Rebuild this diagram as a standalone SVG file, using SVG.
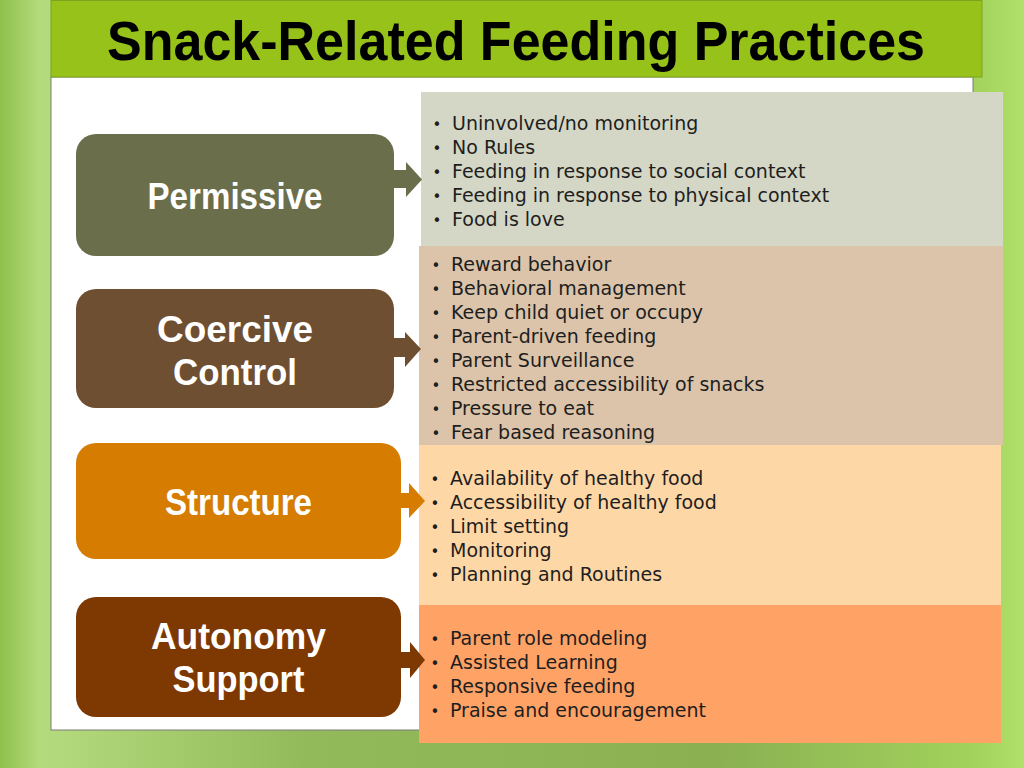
<svg xmlns="http://www.w3.org/2000/svg" width="1024" height="768" viewBox="0 0 1024 768">
<defs>
<linearGradient id="bg" x1="0" y1="0" x2="1" y2="0">
<stop offset="0" stop-color="#8fc04c"/>
<stop offset="0.04" stop-color="#b4dc7e"/>
<stop offset="0.3" stop-color="#92ba5a"/>
<stop offset="0.7" stop-color="#8ab052"/>
<stop offset="0.95" stop-color="#a2d25c"/>
<stop offset="1" stop-color="#b0e06a"/>
</linearGradient>
<style>
.title{font-family:"Liberation Sans",Arial,sans-serif;font-weight:bold;font-size:55px;fill:#000;text-anchor:middle}
.lbl{font-family:"Liberation Sans",Arial,sans-serif;font-weight:bold;font-size:36px;fill:#fff;text-anchor:middle}
.it{font-family:"DejaVu Sans",sans-serif;font-size:19px;fill:#1e1e1e}
.bul{font-family:"DejaVu Sans",sans-serif;font-size:15px;fill:#1e1e1e;text-anchor:middle}
</style>
</defs>
<rect x="0" y="0" width="1024" height="768" fill="url(#bg)"/>
<rect x="51" y="77" width="922" height="653" fill="#ffffff" stroke="#7a7a7a" stroke-width="1"/>
<g id="title">
<rect x="51" y="0.5" width="931" height="76.5" fill="#97c21a" stroke="#7ca320" stroke-width="1"/>
<text class="title" x="516" y="60" textLength="818" lengthAdjust="spacingAndGlyphs">Snack-Related Feeding Practices</text>
</g>
<g id="list-permissive">
<rect x="421" y="92" width="582" height="155" fill="#d4d7c5"/>
<g class="bul"><text x="437" y="130">•</text><text x="437" y="154">•</text><text x="437" y="178">•</text><text x="437" y="202">•</text><text x="437" y="226">•</text></g>
<text class="it" x="452" y="130">Uninvolved/no monitoring</text>
<text class="it" x="452" y="154">No Rules</text>
<text class="it" x="452" y="178">Feeding in response to social context</text>
<text class="it" x="452" y="202">Feeding in response to physical context</text>
<text class="it" x="452" y="226">Food is love</text>
</g>
<g id="list-coercive">
<rect x="419" y="246" width="584" height="199" fill="#dbc4aa"/>
<g class="bul"><text x="436" y="271">•</text><text x="436" y="295">•</text><text x="436" y="319">•</text><text x="436" y="343">•</text><text x="436" y="367">•</text><text x="436" y="391">•</text><text x="436" y="415">•</text><text x="436" y="439">•</text></g>
<text class="it" x="451" y="271">Reward behavior</text>
<text class="it" x="451" y="295">Behavioral management</text>
<text class="it" x="451" y="319">Keep child quiet or occupy</text>
<text class="it" x="451" y="343">Parent-driven feeding</text>
<text class="it" x="451" y="367">Parent Surveillance</text>
<text class="it" x="451" y="391">Restricted accessibility of snacks</text>
<text class="it" x="451" y="415">Pressure to eat</text>
<text class="it" x="451" y="439">Fear based reasoning</text>
</g>
<g id="list-structure">
<rect x="419" y="445" width="582" height="160" fill="#fed7a6"/>
<g class="bul"><text x="435" y="485">•</text><text x="435" y="509">•</text><text x="435" y="533">•</text><text x="435" y="557">•</text><text x="435" y="581">•</text></g>
<text class="it" x="450" y="485">Availability of healthy food</text>
<text class="it" x="450" y="509">Accessibility of healthy food</text>
<text class="it" x="450" y="533">Limit setting</text>
<text class="it" x="450" y="557">Monitoring</text>
<text class="it" x="450" y="581">Planning and Routines</text>
</g>
<g id="list-autonomy">
<rect x="419" y="605" width="582" height="138" fill="#fea266"/>
<g class="bul"><text x="435" y="645">•</text><text x="435" y="669">•</text><text x="435" y="693">•</text><text x="435" y="717">•</text></g>
<text class="it" x="450" y="645">Parent role modeling</text>
<text class="it" x="450" y="669">Assisted Learning</text>
<text class="it" x="450" y="693">Responsive feeding</text>
<text class="it" x="450" y="717">Praise and encouragement</text>
</g>
<g id="node-permissive">
<rect x="76" y="134" width="318" height="122" rx="20" fill="#6b6e4a"/>
<text class="lbl" x="235" y="209" textLength="175" lengthAdjust="spacingAndGlyphs">Permissive</text>
</g>
<g id="node-coercive">
<rect x="76" y="289" width="318" height="119" rx="20" fill="#6f4f31"/>
<text class="lbl" x="235" y="342" textLength="156" lengthAdjust="spacingAndGlyphs">Coercive</text>
<text class="lbl" x="235" y="385" textLength="124" lengthAdjust="spacingAndGlyphs">Control</text>
</g>
<g id="node-structure">
<rect x="76" y="443" width="325" height="116" rx="20" fill="#d57c01"/>
<text class="lbl" x="238.5" y="515" textLength="147" lengthAdjust="spacingAndGlyphs">Structure</text>
</g>
<g id="node-autonomy">
<rect x="76" y="597" width="325" height="120" rx="20" fill="#7e3801"/>
<text class="lbl" x="238.5" y="649" textLength="175" lengthAdjust="spacingAndGlyphs">Autonomy</text>
<text class="lbl" x="238.5" y="692" textLength="132" lengthAdjust="spacingAndGlyphs">Support</text>
</g>
<g id="connectors">
<polygon points="392,170 406,170 406,162 422,179.5 406,197 406,188 392,188" fill="#6b6e4a"/>
<polygon points="392,338 405,338 405,332 421,349 405,367 405,357 392,357" fill="#6f4f31"/>
<polygon points="399,493 409,493 409,483 425,501 409,518 409,508 399,508" fill="#d57c01"/>
<polygon points="399,652 410,652 410,642 425,660 410,678 410,668 399,668" fill="#7e3801"/>
</g>
</svg>
